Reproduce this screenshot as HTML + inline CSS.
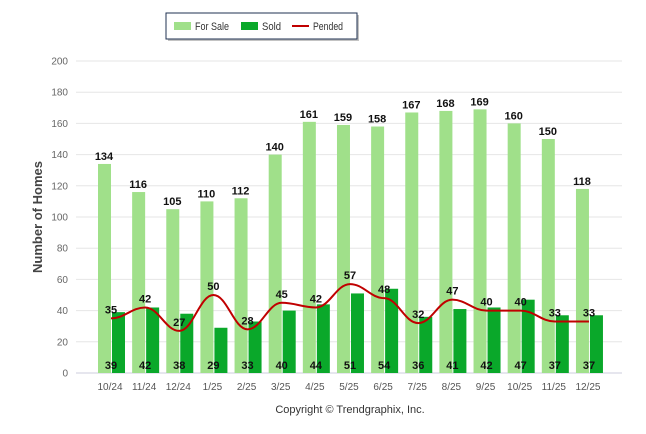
<!DOCTYPE html>
<html><head><meta charset="utf-8"><style>
body{margin:0;background:#fff;font-family:"Liberation Sans",sans-serif}
svg{display:block}
</style></head><body>
<svg width="646" height="434" id="chart" font-family="Liberation Sans, sans-serif">
<g>
<rect x="168" y="15" width="191" height="26" fill="#888" opacity="0.5"/>
<rect x="166" y="13" width="191" height="26" fill="#fff" stroke="#1f3050" stroke-width="1"/>
<g><rect x="174" y="22" width="17" height="8" fill="#a0e08a"/><text x="195" y="30" font-size="11" fill="#333" textLength="34" lengthAdjust="spacingAndGlyphs">For Sale</text></g>
<g><rect x="241" y="22" width="17" height="8" fill="#0aa82a"/><text x="262" y="30" font-size="11" fill="#333" textLength="19" lengthAdjust="spacingAndGlyphs">Sold</text></g>
<g><rect x="292" y="25" width="17" height="2" fill="#c00000"/><text x="313" y="30" font-size="11" fill="#333" textLength="30" lengthAdjust="spacingAndGlyphs">Pended</text></g>
</g>
<text transform="translate(42,217) rotate(-90)" text-anchor="middle" font-size="13" font-weight="bold" fill="#444">Number of Homes</text>
<text x="350" y="413" text-anchor="middle" font-size="11" fill="#333">Copyright © Trendgraphix, Inc.</text>
<g id="grid"></g><g id="bars"></g><g id="line"></g><g id="labels"></g>
</svg>
<script>
const categories=["10/24","11/24","12/24","1/25","2/25","3/25","4/25","5/25","6/25","7/25","8/25","9/25","10/25","11/25","12/25"];
const forSale=[134,116,105,110,112,140,161,159,158,167,168,169,160,150,118];
const sold=[39,42,38,29,33,40,44,51,54,36,41,42,47,37,37];
const pended=[35,42,27,50,28,45,42,57,48,32,47,40,40,33,33];
const yTicks=[0,20,40,60,80,100,120,140,160,180,200];
const NS="http://www.w3.org/2000/svg";
const y=v=>373-v*1.56;
const x=i=>111+i*34.14;
function mk(tag,attrs,parent,txt){const e=document.createElementNS(NS,tag);for(const k in attrs)e.setAttribute(k,attrs[k]);if(txt!==undefined)e.textContent=txt;document.getElementById(parent).appendChild(e);return e;}
yTicks.forEach(t=>{
 const l=mk('line',{x1:76,x2:622,y1:y(t),y2:y(t),stroke:t===0?'#ccd':'#e6e6e6','stroke-width':1},'grid');
 
 
 const tx=mk('text',{x:68,y:y(t)+3.5,'text-anchor':'end','font-size':10,fill:'#666'},'grid',t);
 
 
});
categories.forEach((c,i)=>{
 const tx=mk('text',{x:x(i)-1,y:390,'text-anchor':'middle','font-size':10,fill:'#555'},'grid',c);
 
 
 const a=mk('rect',{x:x(i)-13,y:y(forSale[i]),width:13,height:forSale[i]*1.56,fill:'#a0e08a'},'bars');
 
 
 const b=mk('rect',{x:x(i)+1,y:y(sold[i]),width:13,height:sold[i]*1.56,fill:'#0aa82a'},'bars');
 
 
 const la=mk('text',{x:x(i)-7,y:y(forSale[i])-4,'text-anchor':'middle','font-size':11,'font-weight':'bold',fill:'#111'},'labels',forSale[i]);
 
 
 const lb=mk('text',{x:x(i),y:369,'text-anchor':'middle','font-size':11,'font-weight':'bold',fill:'#111'},'labels',sold[i]);
 
 
 const lc=mk('text',{x:x(i),y:y(pended[i])-5,'text-anchor':'middle','font-size':11,'font-weight':'bold',fill:'#111'},'labels',pended[i]);
 
 
});
let d=`M${x(0)},${y(pended[0])}`;
for(let i=0;i<pended.length-1;i++){
 const dx=(x(i+1)-x(i))/2.5;
 d+=` C${x(i)+dx},${y(pended[i])} ${x(i+1)-dx},${y(pended[i+1])} ${x(i+1)},${y(pended[i+1])}`;
}
const p=mk('path',{d:d,fill:'none',stroke:'#c00000','stroke-width':2},'line');


</script>
</body></html>
